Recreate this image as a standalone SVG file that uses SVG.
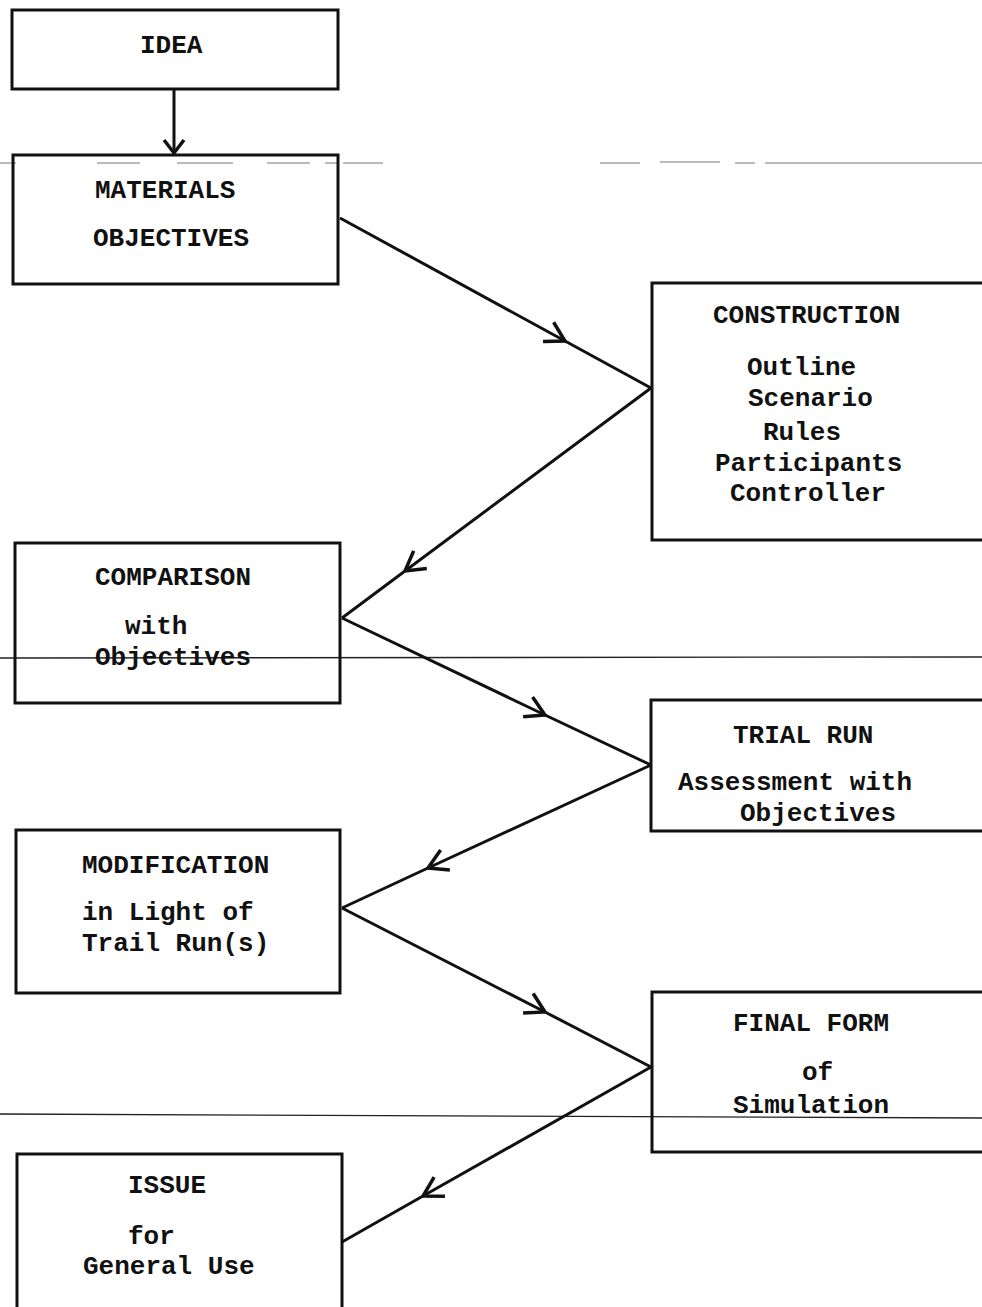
<svg xmlns="http://www.w3.org/2000/svg" width="982" height="1307" viewBox="0 0 982 1307">
<style>
.box{fill:none;stroke:#111;stroke-width:3}
.t{font-family:"Liberation Mono","Courier New",monospace;font-weight:bold;font-size:26px;fill:#111}
.c{fill:none;stroke:#111;stroke-width:3}
.scan{stroke:#222;stroke-width:1.3;fill:none}
.faint{stroke:#777;stroke-width:1;fill:none}
</style>
<defs>
<marker id="mid" markerUnits="userSpaceOnUse" markerWidth="34" markerHeight="34" viewBox="-25 -17 34 34" refX="0" refY="0" orient="auto">
<path d="M -19 -11 L 0 0 L -19 11" fill="none" stroke="#111" stroke-width="3.5"/>
</marker>
<marker id="end" markerUnits="userSpaceOnUse" markerWidth="30" markerHeight="30" viewBox="-20 -15 30 30" refX="0" refY="0" orient="auto">
<path d="M -13 -10 L 0 0 L -13 10" fill="none" stroke="#111" stroke-width="3.5"/>
</marker>
</defs>
<rect width="982" height="1307" fill="#fff"/>
<g id="scanlines">
<path class="faint" d="M0 163 H16 M97 163 H140 M177 163 H233 M267 163 H310 M325 163 H337 M343 163 H383 M600 163 H640 M660 162 H720 M735 163 H755 M765 163 H982"/>
<line class="scan" x1="0" y1="658" x2="982" y2="657"/>
<line class="scan" x1="0" y1="1114" x2="982" y2="1118"/>
</g>
<g id="connectors">
<line class="c" x1="174" y1="89" x2="174" y2="153" marker-end="url(#end)"/>
<polyline class="c" points="340,218 565,341 651,388" marker-mid="url(#mid)"/>
<polyline class="c" points="651,388 405,571 342,618" marker-mid="url(#mid)"/>
<polyline class="c" points="342,618 545,715 651,765" marker-mid="url(#mid)"/>
<polyline class="c" points="651,765 428,868 342,908" marker-mid="url(#mid)"/>
<polyline class="c" points="342,908 545,1012 651,1067" marker-mid="url(#mid)"/>
<polyline class="c" points="651,1067 423,1196 342,1242" marker-mid="url(#mid)"/>
</g>
<g id="idea">
<rect class="box" x="12" y="10" width="326" height="79"/>
<text class="t" x="140" y="53">IDEA</text>
</g>
<g id="materials">
<rect class="box" x="13" y="155" width="325" height="129"/>
<text class="t" x="95" y="198">MATERIALS</text>
<text class="t" x="93" y="246">OBJECTIVES</text>
</g>
<g id="construction">
<rect class="box" x="652" y="283" width="360" height="257"/>
<text class="t" x="713" y="323">CONSTRUCTION</text>
<text class="t" x="747" y="375">Outline</text>
<text class="t" x="748" y="406">Scenario</text>
<text class="t" x="763" y="440">Rules</text>
<text class="t" x="715" y="471">Participants</text>
<text class="t" x="730" y="501">Controller</text>
</g>
<g id="comparison">
<rect class="box" x="15" y="543" width="325" height="160"/>
<text class="t" x="95" y="585">COMPARISON</text>
<text class="t" x="125" y="634">with</text>
<text class="t" x="95" y="665">Objectives</text>
</g>
<g id="trialrun">
<rect class="box" x="651" y="700" width="360" height="131"/>
<text class="t" x="733" y="743">TRIAL RUN</text>
<text class="t" x="678" y="790">Assessment with</text>
<text class="t" x="740" y="821">Objectives</text>
</g>
<g id="modification">
<rect class="box" x="16" y="830" width="324" height="163"/>
<text class="t" x="82" y="873">MODIFICATION</text>
<text class="t" x="82" y="920">in Light of</text>
<text class="t" x="82" y="951">Trail Run(s)</text>
</g>
<g id="finalform">
<rect class="box" x="652" y="992" width="360" height="160"/>
<text class="t" x="733" y="1031">FINAL FORM</text>
<text class="t" x="802" y="1080">of</text>
<text class="t" x="733" y="1113">Simulation</text>
</g>
<g id="issue">
<path class="box" d="M17 1320 V1154 H342 V1320"/>
<text class="t" x="128" y="1193">ISSUE</text>
<text class="t" x="128" y="1244">for</text>
<text class="t" x="83" y="1274">General Use</text>
</g>
</svg>
